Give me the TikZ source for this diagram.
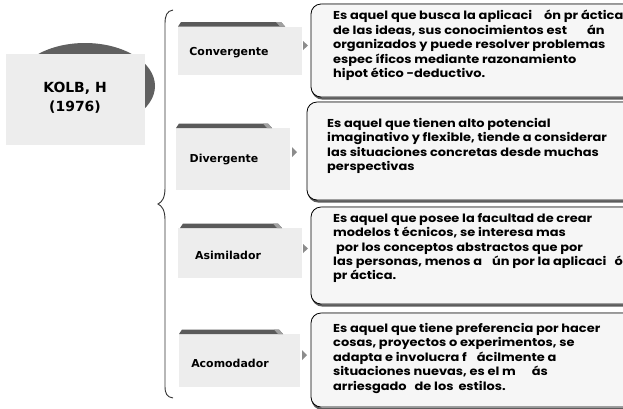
\documentclass[tikz,border=0pt]{standalone}
\usepackage{fontspec}
\newfontfamily\labfont{DejaVu Sans}
\newfontfamily\descfont{Poppins}[FakeStretch=1.13]
\definecolor{texbg}{HTML}{EDEDED}
\definecolor{boxbg}{HTML}{F6F6F6}
\definecolor{bardark}{HTML}{5A5A5A}
\definecolor{barlight}{HTML}{A0A0A0}
\definecolor{ellgray}{HTML}{606060}
\definecolor{arrowgray}{HTML}{8C8C8C}
\definecolor{shadowgray}{HTML}{5C5C5C}
\definecolor{bracegray}{HTML}{333333}
\tikzset{
  catbg/.style={fill=texbg},
  catbar/.style={fill=bardark},
  catbevel/.style={fill=barlight},
  catlabel/.style={font=\labfont\bfseries\fontsize{11}{13}\selectfont, inner sep=0pt},
  desc/.style={font=\descfont\bfseries\fontsize{11.5}{14.5}\selectfont, align=left, anchor=north west, inner sep=0pt},
  dbox/.style={draw=black, line width=0.8bp, rounded corners=10bp, fill=boxbg},
  dshadow/.style={draw=shadowgray, line width=2.2bp, rounded corners=10bp},
  tri/.style={fill=arrowgray},
}
\newcommand{\gap}[1]{\hspace{#1bp}}
\newcommand{\fs}{\rule{0pt}{9bp}}
\begin{document}
\begin{tikzpicture}[x=1bp,y=-1bp]
\clip (0,0) rectangle (623,408);
\useasboundingbox (0,0) rectangle (623,408);
\fill[white] (0,0) rectangle (623,408);

% KOLB
\fill[ellgray] (85,86) ellipse [x radius=70, y radius=43];
\fill[texbg] (6,54) rectangle (145,145);
\node[font=\labfont\bfseries\fontsize{14}{19}\selectfont, align=center, inner sep=0pt] (kolb) at (75,98) {KOLB, H\\(1976)};

% brace
\draw[bracegray, line width=0.9bp] (173,10) .. controls (167,11) and (165,15) .. (165,24)
  -- (165,188) .. controls (165,198) and (162,202) .. (158,204)
  .. controls (162,206) and (165,210) .. (165,220)
  -- (165,386) .. controls (165,394) and (167,397) .. (173,398);

% category boxes
\fill[catbg] (178,26.5) rectangle (302,75);
\fill[catbar] (181,22) -- (281,22) -- (285,26.5) -- (178,26.5) -- cycle;
\fill[catbevel] (276,22) -- (281,22) -- (285,26.5) -- (280,26.5) -- cycle;
\node[catlabel] (conv) at (229,53) {Convergente};
\fill[tri] (303,41) -- (308,45.5) -- (303,50) -- cycle;

\fill[catbg] (176,128) rectangle (290,190);
\fill[catbar] (179,123.5) -- (268,123.5) -- (272,128) -- (176,128) -- cycle;
\fill[catbevel] (263,123.5) -- (268,123.5) -- (272,128) -- (267,128) -- cycle;
\node[catlabel] (div) at (224,160) {Divergente};
\fill[tri] (292,147) -- (297,152) -- (292,157) -- cycle;

\fill[catbg] (178,228) rectangle (302,278);
\fill[catbar] (183,223.5) -- (278,223.5) -- (282,228) -- (180,228) -- cycle;
\fill[catbevel] (273,223.5) -- (278,223.5) -- (282,228) -- (277,228) -- cycle;
\node[catlabel] (asim) at (228,255) {Asimilador};
\fill[tri] (303,244) -- (308,248.5) -- (303,253) -- cycle;

\fill[catbg] (179,334) rectangle (300,387);
\fill[catbar] (182,329.5) -- (279,329.5) -- (283,334) -- (179,334) -- cycle;
\fill[catbevel] (274,329.5) -- (279,329.5) -- (283,334) -- (278,334) -- cycle;
\node[catlabel] (acom) at (230,363) {Acomodador};
\fill[tri] (302,350) -- (307,355) -- (302,360) -- cycle;

% description boxes
\draw[dshadow] (312.5,5) rectangle (640,98.5);
\draw[dbox] (311,4) rectangle (640,97);
\node[desc] (d1) at (333,10) {\fs Es aquel que busca la aplicaci\gap{12}ón pr áctica\\
de las ideas, sus conocimientos est\gap{20}án\\
organizados y puede resolver problemas\\
espec íficos mediante razonamiento\\
hipot ético -deductivo.};

\draw[dshadow] (308.5,103) rectangle (640,201.5);
\draw[dbox] (307,102) rectangle (640,200);
\node[desc] (d2) at (327,118) {\fs Es aquel que tienen alto potencial\\
imaginativo y flexible, tiende a considerar\\
las situaciones concretas desde muchas\\
perspectivas};

\draw[dshadow] (312.5,208) rectangle (640,305.5);
\draw[dbox] (311,207) rectangle (640,304);
\node[desc] (d3) at (333,213) {\fs Es aquel que posee la facultad de crear\\
modelos t écnicos, se interesa mas\\
\gap{3}por los conceptos abstractos que por\\
las personas, menos a\gap{10}ún por la aplicaci\gap{8}ón\\
pr áctica.};

\draw[dshadow] (312.5,314) rectangle (640,409);
\draw[dbox] (311,313) rectangle (640,407);
\node[desc] (d4) at (333,323) {\fs Es aquel que tiene preferencia por hacer\\
cosas, proyectos o experimentos, se\\
adapta e involucra f\gap{10}ácilmente a\\
situaciones nuevas, es el m\gap{16}ás\\
arriesgado\gap{8}de los\gap{5}estilos.};
\end{tikzpicture}
\end{document}
